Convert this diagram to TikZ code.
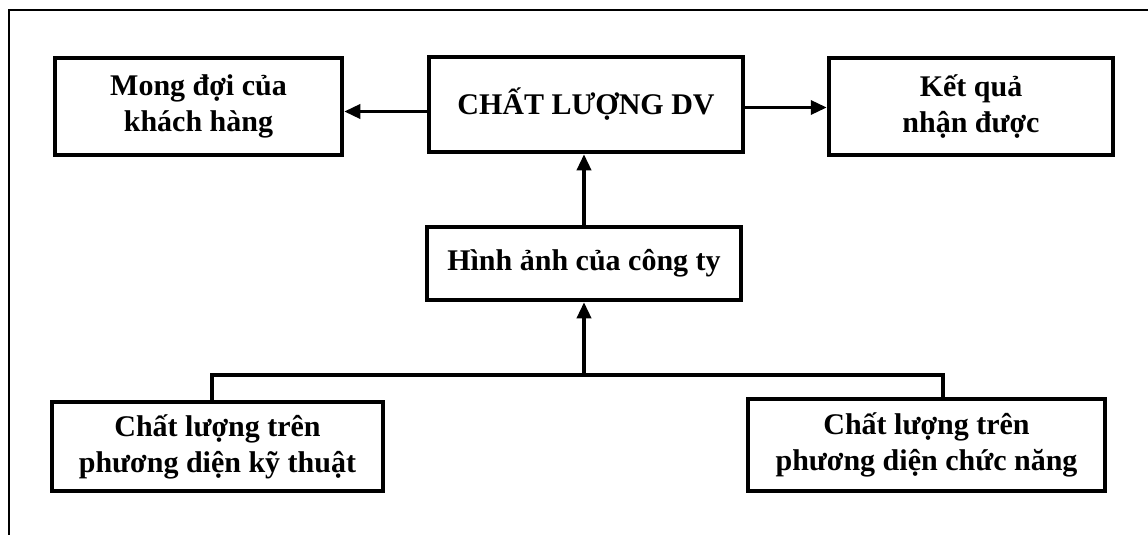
\documentclass[tikz,border=0pt]{standalone}
\usepackage{fontspec}
\setmainfont{Liberation Serif}
\usetikzlibrary{arrows.meta}
\tikzset{
  hop/.style={draw, line width=4.5pt, align=center, inner sep=0pt,
    font=\fontsize{30}{36}\selectfont\bfseries},
  noi/.style={line width=3.5pt}
}
\begin{document}
\begin{tikzpicture}[x=1pt, y=-1pt, >={Triangle[length=16pt,width=14pt]}]
\useasboundingbox (0,0) rectangle (1148,535);
\draw[line width=2.5pt](9,535)--(9,10)--(1148,10);
\node[hop, minimum width=287pt, minimum height=97pt] (mongdoi) at (198.5,106.5) {Mong đợi của\\khách hàng};
\node[hop, minimum width=314pt, minimum height=95pt] (cldv) at (586,104.5) {CHẤT LƯỢNG DV};
\node[hop, minimum width=284pt, minimum height=97pt] (ketqua) at (971,106.5) {Kết quả\\nhận được};
\node[hop, minimum width=314pt, minimum height=73pt] (hinhanh) at (584,263.5) {Hình ảnh của công ty};
\node[hop, minimum width=331pt, minimum height=89pt] (kythuat) at (217.5,446.5) {Chất lượng trên\\phương diện kỹ thuật};
\node[hop, minimum width=357pt, minimum height=92pt] (chucnang) at (926.5,445) {Chất lượng trên\\phương diện chức năng};
\coordinate (nhanh) at (584,375);
\coordinate (trai) at (212,375);
\coordinate (phai) at (943,375);
\draw[noi,->]([yshift=-7pt]cldv.west)--([yshift=-7pt]cldv.west -| mongdoi.east);
\draw[noi,->]([yshift=-3pt]cldv.east)--([yshift=-3pt]cldv.east -| ketqua.west);
\draw[noi,->](hinhanh.north)--(hinhanh.north |- cldv.south);
\draw[noi,->](nhanh)--(hinhanh.south);
\draw[noi](trai |- kythuat.north)--(trai)--(phai)--(phai |- chucnang.north);
\end{tikzpicture}
\end{document}
